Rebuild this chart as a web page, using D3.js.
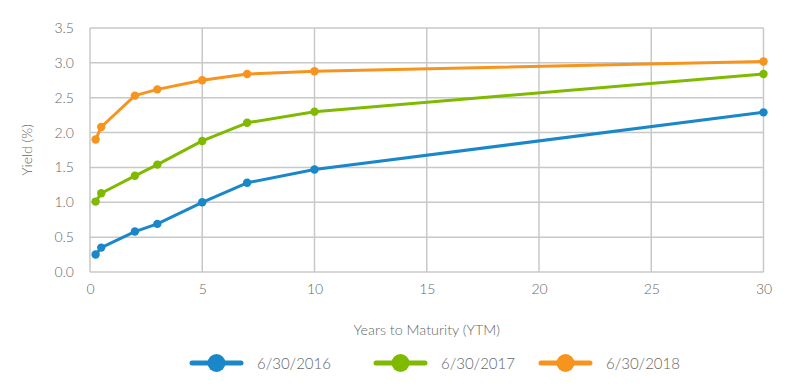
<!DOCTYPE html>
<html><head><meta charset="utf-8">
<script src="https://cdn.jsdelivr.net/npm/d3@7"></script>
<style>body{margin:0;background:#fff}svg{display:block}text{font-family:Lato,"Open Sans",sans-serif;font-weight:300;fill:#666}</style>
</head><body>
<svg id="c" width="800" height="390"></svg>
<script>
const maturities = [0.25, 0.5, 2, 3, 5, 7, 10, 30];
const seriesNames = ["6/30/2016", "6/30/2017", "6/30/2018"];
const y2016 = [0.25, 0.35, 0.58, 0.69, 1.00, 1.28, 1.47, 2.29];
const y2017 = [1.01, 1.13, 1.38, 1.54, 1.88, 2.14, 2.30, 2.84];
const y2018 = [1.90, 2.08, 2.53, 2.62, 2.75, 2.84, 2.88, 3.02];
const colors = ["#1a87c9", "#7fba00", "#f7941d"];
const xTicks = [0, 5, 10, 15, 20, 25, 30];
const yTicks = [0, 0.5, 1, 1.5, 2, 2.5, 3, 3.5];

const svg = d3.select("#c");
const x = d3.scaleLinear().domain([0, 30]).range([90, 763.5]);
const y = d3.scaleLinear().domain([0, 3.5]).range([272, 28]);
const grid = "#c8c8c8";

// grid
svg.append("g").selectAll("line").data(yTicks).join("line")
  .attr("x1", x(0)).attr("x2", x(30)).attr("y1", d => y(d)).attr("y2", d => y(d))
  .attr("stroke", grid).attr("stroke-width", 1.5);
svg.append("g").selectAll("line").data(xTicks).join("line")
  .attr("y1", y(0)).attr("y2", y(3.5)).attr("x1", d => x(d)).attr("x2", d => x(d))
  .attr("stroke", grid).attr("stroke-width", 1.5);

// axes
const yAxis = svg.append("g").attr("transform", `translate(${x(0)},0)`)
  .call(d3.axisLeft(y).tickValues(yTicks).tickFormat(d3.format(".1f")).tickSize(0).tickPadding(16));
const xAxis = svg.append("g").attr("transform", `translate(0,${y(0)})`)
  .call(d3.axisBottom(x).tickValues(xTicks).tickSize(0).tickPadding(12));
[yAxis, xAxis].forEach(a => { a.select(".domain").remove(); a.selectAll("text").style("font-size", "14px").attr("fill", "#666"); });

svg.append("text").attr("transform", `translate(32,${y(1.75)}) rotate(-90)`)
  .attr("text-anchor", "middle").style("font-size", "14px").text("Yield (%)");
svg.append("text").attr("x", (x(0) + x(30)) / 2).attr("y", 335)
  .attr("text-anchor", "middle").style("font-size", "14.3px").text("Years to Maturity (YTM)");

const all = [y2016, y2017, y2018];
const line = d3.line().x((d, i) => x(maturities[i])).y(d => y(d));
all.forEach((vals, s) => {
  svg.append("path").datum(vals).attr("d", line).attr("fill", "none")
    .attr("stroke", colors[s]).attr("stroke-width", 3).attr("stroke-linejoin", "round");
  svg.append("g").selectAll("circle").data(vals).join("circle")
    .attr("cx", (d, i) => x(maturities[i])).attr("cy", d => y(d)).attr("r", 4.2).attr("fill", colors[s]);
});

// legend
const legX = [190, 374, 539];
seriesNames.forEach((n, s) => {
  const g = svg.append("g").attr("transform", `translate(${legX[s]},363)`);
  g.append("line").attr("x1", 2).attr("x2", 51).attr("stroke", colors[s]).attr("stroke-width", 5).attr("stroke-linecap", "round");
  g.append("circle").attr("cx", 26.5).attr("r", 9).attr("fill", colors[s]);
  g.append("text").attr("x", 67).attr("y", 5.5).style("font-size", "15px").text(n);
});
</script>
</body></html>
